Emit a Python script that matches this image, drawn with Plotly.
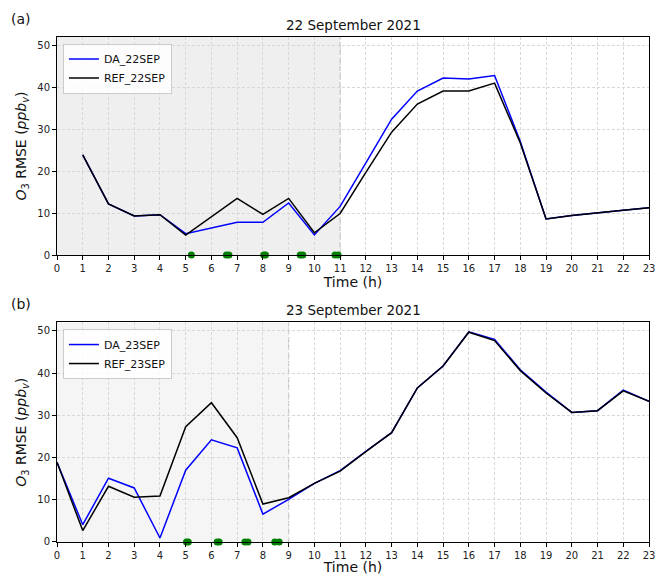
import plotly.graph_objects as go

# ---- data ----
hours_a = list(range(1, 24))
ref_22 = [23.9, 12.2, 9.3, 9.6, 4.75, 9.1, 13.5, 9.7, 13.5, 5.3, 9.9, 19.7, 29.3, 36.0, 39.1, 39.1, 41.0, 26.7, 8.6, 9.4, 10.1, 10.7, 11.3]
da_22 = [23.9, 12.2, 9.3, 9.6, 5.1, 6.4, 7.8, 7.8, 12.4, 4.8, 11.6, 22.0, 32.4, 39.1, 42.2, 42.0, 42.8, 27.1, 8.6, 9.4, 10.1, 10.7, 11.3]
obs_22 = [5.22, 6.58, 6.68, 8.03, 8.1, 9.45, 9.55, 10.8, 10.92]

hours_b = list(range(0, 24))
ref_23 = [18.9, 2.7, 13.2, 10.6, 10.9, 27.3, 33.0, 24.7, 9.0, 10.5, 13.9, 16.8, 21.4, 25.9, 36.5, 41.7, 49.7, 47.7, 40.6, 35.3, 30.7, 31.1, 35.8, 33.3]
da_23 = [18.9, 4.1, 15.1, 12.8, 0.95, 17.0, 24.2, 22.3, 6.6, 10.1, 13.9, 16.9, 21.5, 25.9, 36.5, 41.7, 49.8, 48.0, 40.8, 35.5, 30.7, 31.1, 36.0, 33.3]
obs_23 = [5.03, 5.1, 6.22, 6.3, 7.3, 7.42, 8.46, 8.63]

titles = ["22 September 2021", "23 September 2021"]
panel_labels = ["(a)", "(b)"]
window_end = [11, 9]
x_ticks = list(range(0, 24))
y_ticks = [0, 10, 20, 30, 40, 50]

FONT = "DejaVu Sans"
fig = go.Figure()

# top panel
fig.add_trace(go.Scatter(x=hours_a, y=da_22, mode="lines", name="DA_22SEP",
                         line=dict(color="#0000ff", width=1.5), xaxis="x", yaxis="y", legend="legend"))
fig.add_trace(go.Scatter(x=hours_a, y=ref_22, mode="lines", name="REF_22SEP",
                         line=dict(color="#000000", width=1.5), xaxis="x", yaxis="y", legend="legend"))
fig.add_trace(go.Scatter(x=obs_22, y=[0] * len(obs_22), mode="markers", showlegend=False,
                         marker=dict(color="#008000", size=7), cliponaxis=False, xaxis="x", yaxis="y"))
# bottom panel
fig.add_trace(go.Scatter(x=hours_b, y=da_23, mode="lines", name="DA_23SEP",
                         line=dict(color="#0000ff", width=1.5), xaxis="x2", yaxis="y2", legend="legend2"))
fig.add_trace(go.Scatter(x=hours_b, y=ref_23, mode="lines", name="REF_23SEP",
                         line=dict(color="#000000", width=1.5), xaxis="x2", yaxis="y2", legend="legend2"))
fig.add_trace(go.Scatter(x=obs_23, y=[0] * len(obs_23), mode="markers", showlegend=False,
                         marker=dict(color="#008000", size=7), cliponaxis=False, xaxis="x2", yaxis="y2"))

axis_common = dict(showline=True, linecolor="black", linewidth=1, mirror=True,
                   ticks="outside", ticklen=4, tickcolor="black", automargin=False,
                   showgrid=True, gridcolor="#d8d8d8", griddash="3px,2px", gridwidth=0.8,
                   zeroline=False, tickfont=dict(family=FONT, size=10, color="#222"))

ytitle = "<i>O</i><sub>3</sub> RMSE (<i>ppb</i><sub><i>v</i></sub>)"
top_dom = [0.5683, 1.0]
bot_dom = [0.0, 0.4347]

fig.update_layout(
    width=656, height=575,
    margin=dict(l=57, r=7, t=37, b=33, autoexpand=False),
    paper_bgcolor="white", plot_bgcolor="white",
    font=dict(family=FONT, color="#111"),
    xaxis=dict(domain=[0, 1], anchor="y", range=[0, 23], tickvals=x_ticks,
               title=dict(text="Time (h)", font=dict(family=FONT, size=14), standoff=0), **axis_common),
    yaxis=dict(domain=top_dom, anchor="x", range=[0, 52], tickvals=y_ticks,
               title=dict(text=ytitle, font=dict(family=FONT, size=14), standoff=7), **axis_common),
    xaxis2=dict(domain=[0, 1], anchor="y2", range=[0, 23], tickvals=x_ticks,
                title=dict(text="Time (h)", font=dict(family=FONT, size=14), standoff=0), **axis_common),
    yaxis2=dict(domain=bot_dom, anchor="x2", range=[0, 52], tickvals=y_ticks,
                title=dict(text=ytitle, font=dict(family=FONT, size=14), standoff=7), **axis_common),
    legend=dict(x=0.01, y=0.987, xanchor="left", yanchor="top", bgcolor="rgba(255,255,255,0.85)",
                bordercolor="#cccccc", borderwidth=1, font=dict(family=FONT, size=11),
                tracegroupgap=0, itemwidth=30),
    legend2=dict(x=0.01, y=bot_dom[1] - 0.013, xanchor="left", yanchor="top", bgcolor="rgba(255,255,255,0.85)",
                 bordercolor="#cccccc", borderwidth=1, font=dict(family=FONT, size=11),
                 tracegroupgap=0, itemwidth=30),
)

shade = ["#efefef", "#f5f5f5"]
for i, (xr, yr) in enumerate([("x", "y"), ("x2", "y2")]):
    fig.add_shape(type="rect", xref=xr, yref=yr, x0=0, x1=window_end[i], y0=0, y1=52,
                  fillcolor=shade[i], line=dict(width=0), layer="below")
    fig.add_shape(type="line", xref=xr, yref=yr, x0=window_end[i], x1=window_end[i], y0=0, y1=52,
                  line=dict(color="#c0c0c0", width=1.2, dash="5px,3px"), layer="below")

for i, dom in enumerate([top_dom, bot_dom]):
    fig.add_annotation(text=titles[i], xref="paper", yref="paper", x=0.5, y=dom[1], yshift=2,
                       xanchor="center", yanchor="bottom", showarrow=False,
                       font=dict(family=FONT, size=13.5, color="#111"))
    fig.add_annotation(text=panel_labels[i], xref="paper", yref="paper", x=0, xshift=-48, y=dom[1], yshift=8,
                       xanchor="left", yanchor="bottom", showarrow=False,
                       font=dict(family=FONT, size=14, color="#111"))

fig.write_html("out.html", config={"displayModeBar": False},
               post_script="document.body.style.margin='0';document.body.style.overflow='hidden';")
